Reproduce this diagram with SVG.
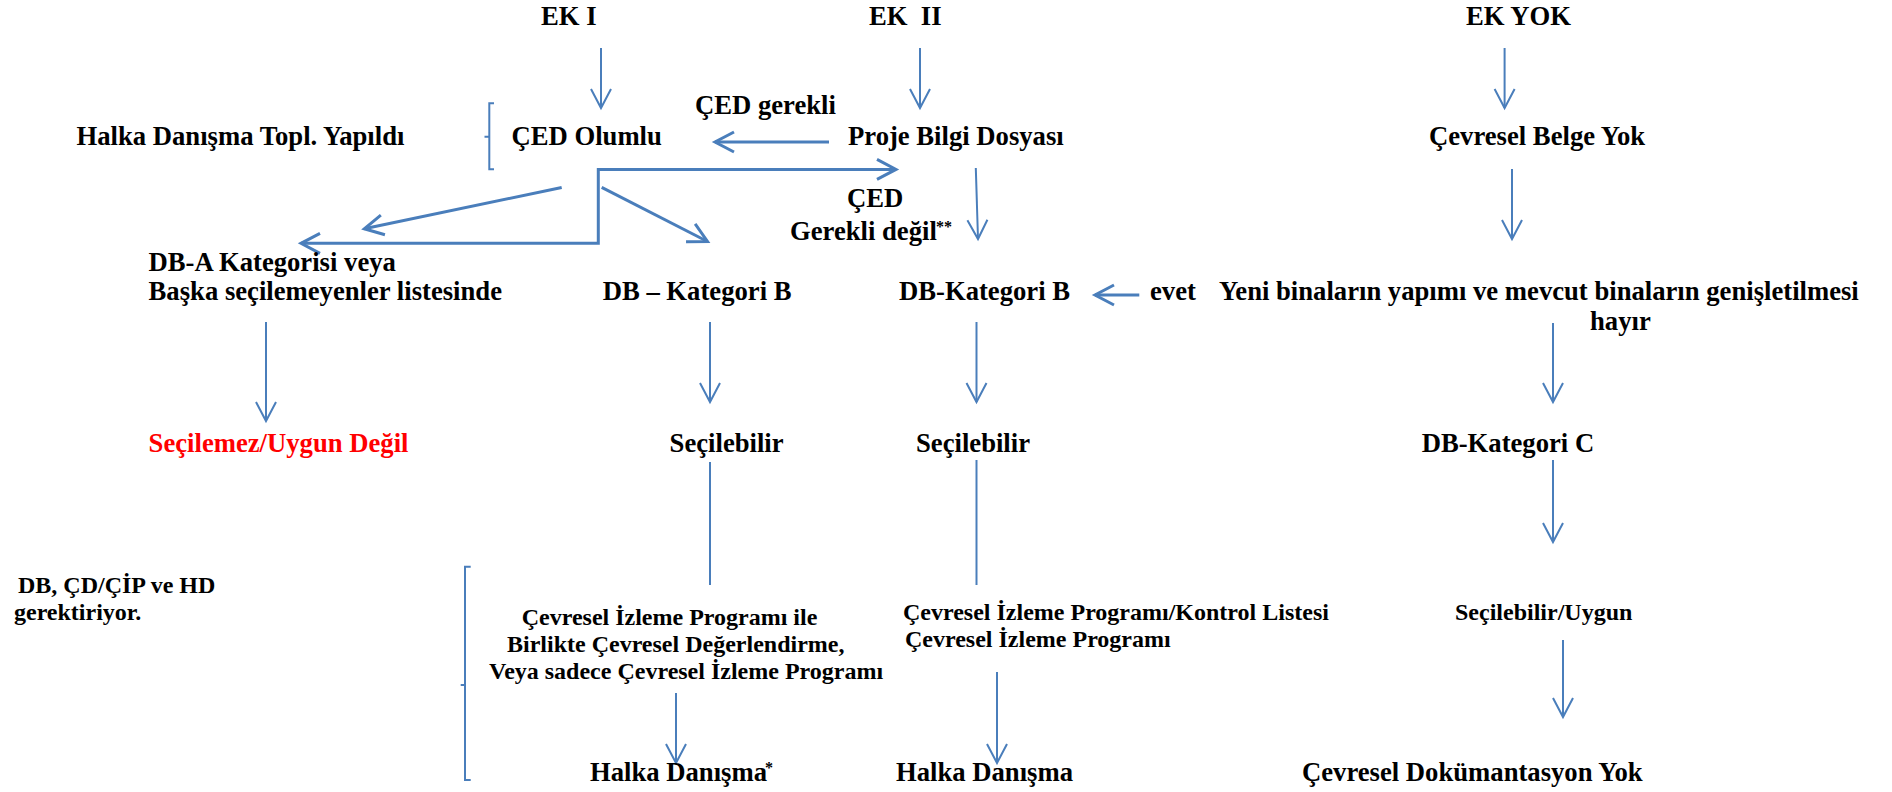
<svg xmlns="http://www.w3.org/2000/svg" width="1892" height="792" viewBox="0 0 1892 792">
<style>
text{font-family:"Liberation Serif","Times New Roman",serif;font-weight:bold;fill:#000;font-size:26.67px;white-space:pre}
.s{font-size:24px}
.sup{font-size:16px}
.red{fill:#ff0000}
.c{fill:none;stroke:#4a7ebb;stroke-width:2}
.t{stroke-width:3}
</style>
<defs>
<marker id="a2" markerUnits="userSpaceOnUse" markerWidth="30" markerHeight="30" viewBox="-25 -15 30 30" refX="0" refY="0" orient="auto-start-reverse" overflow="visible">
<path d="M-19,-10 L0,0 L-19,10" fill="none" stroke="#4a7ebb" stroke-width="2"/>
</marker>
<marker id="a3" markerUnits="userSpaceOnUse" markerWidth="30" markerHeight="30" viewBox="-25 -15 30 30" refX="0" refY="0" orient="auto-start-reverse" overflow="visible">
<path d="M-19,-10 L0,0 L-19,10" fill="none" stroke="#4a7ebb" stroke-width="3"/>
</marker>
</defs>
<rect width="1892" height="792" fill="#fff"/>
<g id="connectors">
<path class="c" d="M601,48 V108" marker-end="url(#a2)"/>
<path class="c" d="M920,48 V108" marker-end="url(#a2)"/>
<path class="c" d="M1504.6,48 V108" marker-end="url(#a2)"/>
<path class="c" d="M975.8,168 L978,239" marker-end="url(#a2)"/>
<path class="c" d="M1512,169 V239" marker-end="url(#a2)"/>
<path class="c" d="M266,322 V421" marker-end="url(#a2)"/>
<path class="c" d="M710,322 V402" marker-end="url(#a2)"/>
<path class="c" d="M976.5,322 V402" marker-end="url(#a2)"/>
<path class="c" d="M1553,323 V402" marker-end="url(#a2)"/>
<path class="c" d="M1553,460 V542" marker-end="url(#a2)"/>
<path class="c" d="M710,462 V585"/>
<path class="c" d="M976.5,460 V585"/>
<path class="c" d="M676,693 V763" marker-end="url(#a2)"/>
<path class="c" d="M997,672 V763" marker-end="url(#a2)"/>
<path class="c" d="M1563,640 V717" marker-end="url(#a2)"/>
<path class="c t" d="M829,142 H715" marker-end="url(#a3)"/>
<path class="c t" d="M301,243.3 H598.3 V169.4 H896" marker-start="url(#a3)" marker-end="url(#a3)"/>
<path class="c t" d="M561.7,187.5 L364.3,228.8" marker-end="url(#a3)"/>
<path class="c t" d="M601.7,187.3 L707.5,241.5" marker-end="url(#a3)"/>
<path class="c t" d="M1139.3,295 H1095" marker-end="url(#a3)"/>
<path class="c" d="M494,103.3 H489.3 V169.3 H494 M489.3,136.7 H484.5"/>
<path class="c" d="M470.7,566.7 H465 V780 H470.7 M465,685 H460.7"/>
</g>
<g id="ek1"><text x="541" y="25">EK I</text></g>
<g id="ek2"><text x="869" y="25">EK  II</text></g>
<g id="ekyok"><text x="1466" y="25">EK YOK</text></g>
<g id="ced-gerekli"><text x="695" y="114">ÇED gerekli</text></g>
<g id="halka-topl"><text x="76.5" y="145">Halka Danışma Topl. Yapıldı</text></g>
<g id="ced-olumlu"><text x="511.5" y="145">ÇED Olumlu</text></g>
<g id="proje"><text x="848" y="145">Proje Bilgi Dosyası</text></g>
<g id="belge-yok"><text x="1429" y="145">Çevresel Belge Yok</text></g>
<g id="ced-gerekli-degil"><text x="847" y="207">ÇED</text><text x="790" y="240">Gerekli değil</text><text class="sup" x="936" y="232">**</text></g>
<g id="db-a"><text x="148.6" y="271">DB-A Kategorisi veya</text><text x="148.6" y="300">Başka seçilemeyenler listesinde</text></g>
<g id="db-b1"><text x="602.7" y="300">DB – Kategori B</text></g>
<g id="db-b2"><text x="899" y="300">DB-Kategori B</text></g>
<g id="evet"><text x="1150" y="300">evet</text></g>
<g id="yeni"><text x="1219" y="300">Yeni binaların yapımı ve mevcut binaların genişletilmesi</text><text x="1590" y="330">hayır</text></g>
<g id="secilemez"><text class="red" x="148.6" y="452">Seçilemez/Uygun Değil</text></g>
<g id="secilebilir1"><text x="669.6" y="452">Seçilebilir</text></g>
<g id="secilebilir2"><text x="916" y="452">Seçilebilir</text></g>
<g id="db-c"><text x="1421.7" y="452">DB-Kategori C</text></g>
<g id="db-cd"><text class="s" x="18" y="593">DB, ÇD/ÇİP ve HD</text><text class="s" x="14" y="620">gerektiriyor.</text></g>
<g id="cip1"><text class="s" x="521.7" y="625">Çevresel İzleme Programı ile</text><text class="s" x="507" y="652">Birlikte Çevresel Değerlendirme,</text><text class="s" x="489" y="679">Veya sadece Çevresel İzleme Programı</text></g>
<g id="cip2"><text class="s" x="903" y="620">Çevresel İzleme Programı/Kontrol Listesi</text><text class="s" x="905" y="647">Çevresel İzleme Programı</text></g>
<g id="uygun"><text class="s" x="1455" y="620">Seçilebilir/Uygun</text></g>
<g id="halka1"><text x="590" y="781">Halka Danışma</text><text class="sup" x="765" y="773">*</text></g>
<g id="halka2"><text x="896" y="781">Halka Danışma</text></g>
<g id="dok-yok"><text x="1302" y="781">Çevresel Dokümantasyon Yok</text></g>
</svg>
